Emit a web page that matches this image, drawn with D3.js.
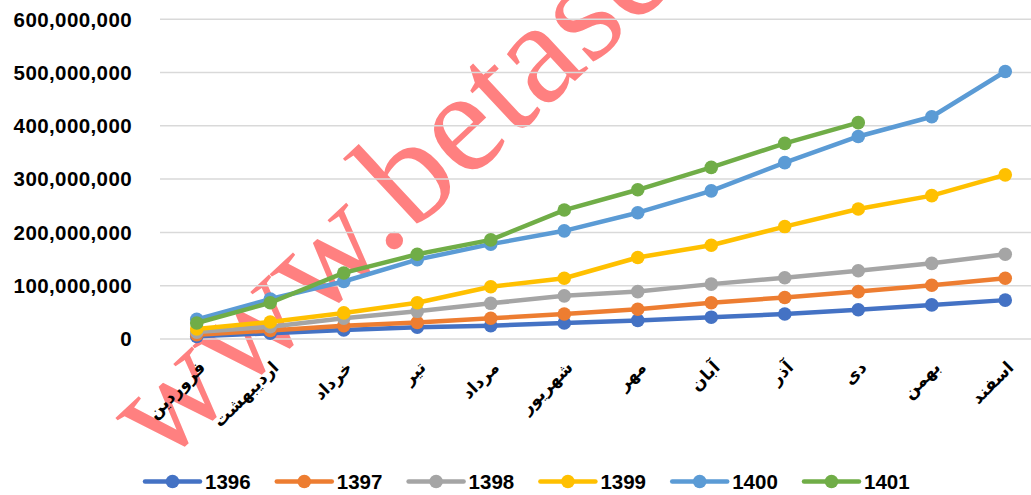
<!DOCTYPE html>
<html>
<head>
<meta charset="utf-8">
<script src="https://cdn.jsdelivr.net/npm/d3@7"></script>
<style>
  html, body { margin: 0; padding: 0; background: #fff; }
  svg { display: block; }
</style>
</head>
<body>
<svg id="chart" width="1031" height="495"></svg>
<script>
const months = ["فروردین","اردیبهشت","خرداد","تیر","مرداد","شهریور","مهر","آبان","آذر","دی","بهمن","اسفند"];
const seriesNames = ["1396","1397","1398","1399","1400","1401"];
const colors = ["#4472C4","#ED7D31","#A5A5A5","#FFC000","#5B9BD5","#70AD47"];
const s1396 = [4e6, 10e6, 16e6, 21e6, 24e6, 29e6, 34e6, 40e6, 46e6, 54e6, 63e6, 72e6];
const s1397 = [7e6, 15e6, 24e6, 30e6, 38e6, 46e6, 55e6, 67e6, 77e6, 88e6, 100e6, 113e6];
const s1398 = [12e6, 22e6, 38e6, 51e6, 66e6, 80e6, 88e6, 102e6, 114e6, 127e6, 141e6, 158e6];
const s1399 = [18e6, 31e6, 48e6, 67e6, 97e6, 113e6, 152e6, 175e6, 210e6, 243e6, 268e6, 307e6];
const s1400 = [36e6, 74e6, 107e6, 148e6, 177e6, 202e6, 236e6, 277e6, 330e6, 379e6, 416e6, 501e6];
const s1401 = [29e6, 67e6, 123e6, 158e6, 185e6, 241e6, 279e6, 321e6, 366e6, 405e6, null, null];
const yTicks = [0, 100e6, 200e6, 300e6, 400e6, 500e6, 600e6];
const watermarkText = "www.betase";

const allSeries = [s1396, s1397, s1398, s1399, s1400, s1401];

const svg = d3.select("#chart");
svg.append("rect").attr("width", 1031).attr("height", 495).attr("fill", "#fff");

const x = d3.scalePoint().domain(months).range([160, 1042]).padding(0.5);
const y = d3.scaleLinear().domain([0, 600e6]).range([338.5, 18.7]);

// watermark
svg.append("text")
  .attr("transform", "translate(161,467) rotate(-43)")
  .style("font-family", "'Times New Roman', Times, 'Liberation Serif', 'DejaVu Serif', serif")
  .style("font-size", "146px")
  .style("font-weight", "normal")
  .attr("fill", "#ff8080")
  .text(watermarkText);

// gridlines + y labels
const yAxis = d3.axisLeft(y).tickValues(yTicks).tickSize(-(1042 - 160)).tickPadding(28)
  .tickFormat(d3.format(","));
const gy = svg.append("g").attr("transform", "translate(160,0)").call(yAxis);
gy.select(".domain").remove();
gy.selectAll(".tick line").attr("stroke", "#d9d9d9").attr("stroke-width", 1.5);
gy.selectAll(".tick text")
  .attr("font-family", "'Liberation Sans', Arial, sans-serif")
  .attr("font-weight", "bold")
  .attr("font-size", 20.5)
  .attr("letter-spacing", 0.4)
  .attr("fill", "#000")
  .attr("dy", "0.36em");

// x labels
const xAxis = d3.axisBottom(x).tickSize(0).tickPadding(0);
const gx = svg.append("g").attr("transform", "translate(0,338.5)").call(xAxis);
gx.select(".domain").remove();
gx.selectAll(".tick text")
  .attr("font-family", "'DejaVu Sans', sans-serif")
  .attr("font-weight", "bold")
  .attr("font-size", 17)
  .attr("fill", "#000")
  .attr("text-anchor", "end")
  .attr("y", 0).attr("dy", 0)
  .attr("transform", "translate(9,30) rotate(-45)");

// lines
const line = d3.line()
  .defined(d => d != null)
  .x((d, i) => x(months[i]))
  .y(d => y(d));

allSeries.forEach((vals, si) => {
  const g = svg.append("g");
  g.append("path")
    .datum(vals)
    .attr("d", line)
    .attr("fill", "none")
    .attr("stroke", colors[si])
    .attr("stroke-width", 4.5)
    .attr("stroke-linejoin", "round")
    .attr("stroke-linecap", "round");
  g.selectAll("circle")
    .data(vals.map((v, i) => ({v, i})).filter(d => d.v != null))
    .join("circle")
    .attr("cx", d => x(months[d.i]))
    .attr("cy", d => y(d.v))
    .attr("r", 6.8)
    .attr("fill", colors[si]);
});

// legend
const lg = svg.append("g");
seriesNames.forEach((name, i) => {
  const x0 = 145 + i * 131.8;
  const yL = 481.5;
  lg.append("line").attr("x1", x0).attr("x2", x0 + 55).attr("y1", yL).attr("y2", yL)
    .attr("stroke", colors[i]).attr("stroke-width", 4.5).attr("stroke-linecap", "round");
  lg.append("circle").attr("cx", x0 + 27.5).attr("cy", yL).attr("r", 6.8).attr("fill", colors[i]);
  lg.append("text").attr("x", x0 + 60).attr("y", yL).attr("dy", "0.36em")
    .attr("font-family", "'Liberation Sans', Arial, sans-serif")
    .attr("font-weight", "bold").attr("font-size", 20.5)
    .attr("fill", "#000")
    .text(name);
});
</script>
</body>
</html>
